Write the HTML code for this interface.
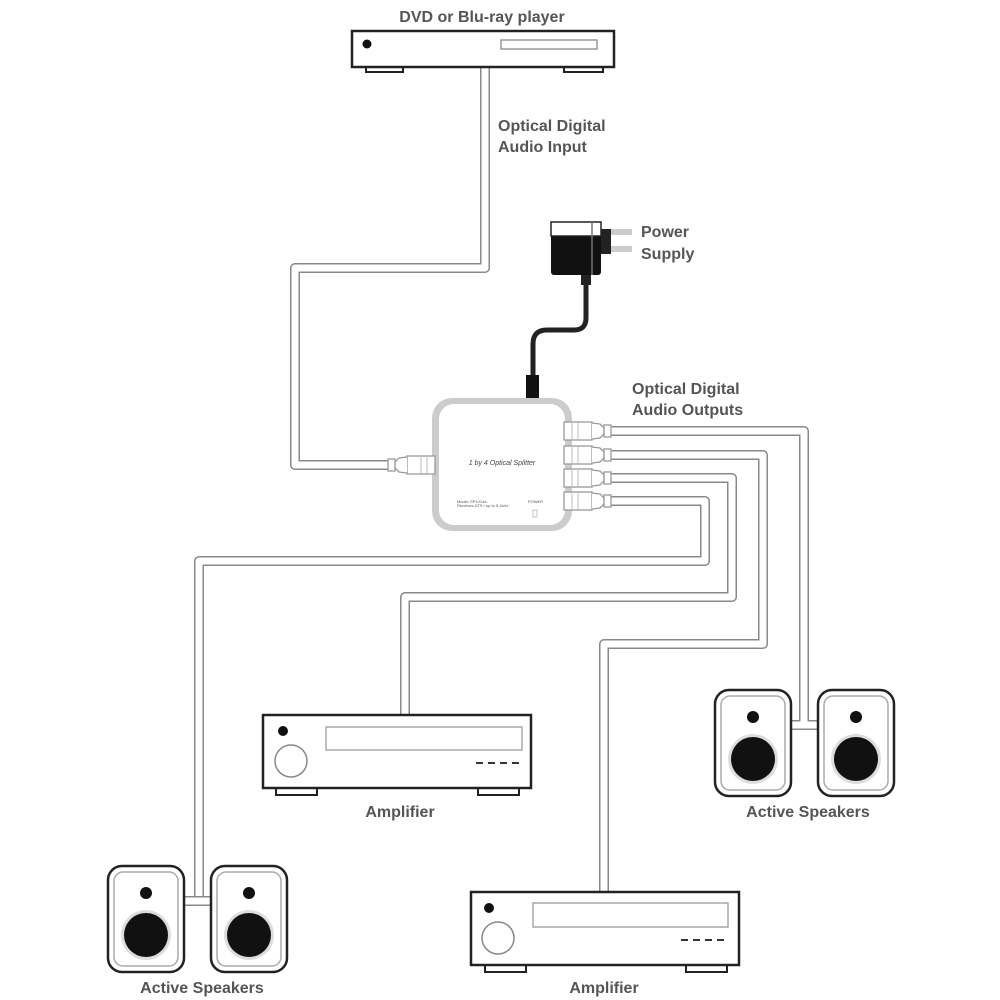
<!DOCTYPE html>
<html><head><meta charset="utf-8"><style>
html,body{margin:0;padding:0;background:#fff}
svg{display:block}
text{font-family:"Liberation Sans",sans-serif;font-weight:bold;fill:#555;font-size:16px}
</style></head><body>
<svg width="1000" height="1000" viewBox="0 0 1000 1000" xmlns="http://www.w3.org/2000/svg">
<defs>
<g id="spk">
 <rect x="0" y="0" width="76" height="106" rx="14" fill="#fff" stroke="#222" stroke-width="2.5"/>
 <rect x="6" y="6" width="64" height="94" rx="9" fill="none" stroke="#aaa" stroke-width="1.5"/>
 <circle cx="38" cy="27" r="6" fill="#111"/>
 <circle cx="38" cy="69" r="25" fill="#ddd"/>
 <circle cx="38" cy="69" r="22" fill="#111"/>
</g>
<g id="conn">
 <rect x="0" y="-9" width="28" height="18" fill="#fff" stroke="#999" stroke-width="1.3"/>
 <line x1="8" y1="-9" x2="8" y2="9" stroke="#bbb"/>
 <line x1="14" y1="-9" x2="14" y2="9" stroke="#bbb"/>
 <path d="M28,-8 L36,-7 L40,-3 L40,3 L36,7 L28,8" fill="#fff" stroke="#999" stroke-width="1.3"/>
 <rect x="40" y="-6" width="7" height="12" fill="#fff" stroke="#999" stroke-width="1.3"/>
</g>
</defs>
<g fill="none" stroke-linejoin="round">
 <g stroke="#888" stroke-width="10">
  <path d="M485,67 V268 H295 V465 H390"/>
  <path d="M610,431 H804 V725"/>
  <path d="M610,455 H763 V644 H604 V892"/>
  <path d="M610,478 H732 V597 H405 V715"/>
  <path d="M610,501 H705 V561 H199 V896"/>
  <path d="M790,725 H820"/>
  <path d="M184,901 H212"/>
 </g>
 <g stroke="#fff" stroke-width="7">
  <path d="M485,67 V268 H295 V465 H390"/>
  <path d="M610,431 H804 V725"/>
  <path d="M610,455 H763 V644 H604 V892"/>
  <path d="M610,478 H732 V597 H405 V715"/>
  <path d="M610,501 H705 V561 H199 V896"/>
  <path d="M790,725 H820"/>
  <path d="M184,901 H212"/>
 </g>
</g>
<!-- DVD -->
<rect x="366" y="65" width="37" height="7" fill="#fff" stroke="#222" stroke-width="2"/>
<rect x="564" y="65" width="39" height="7" fill="#fff" stroke="#222" stroke-width="2"/>
<rect x="352" y="31" width="262" height="36" fill="#fff" stroke="#222" stroke-width="2.5"/>
<circle cx="367" cy="44" r="4.5" fill="#111"/>
<rect x="501" y="40" width="96" height="9" fill="none" stroke="#888" stroke-width="1.3"/>
<text x="482" y="22" text-anchor="middle">DVD or Blu-ray player</text>
<text x="498" y="131">Optical Digital</text>
<text x="498" y="152">Audio Input</text>
<!-- power -->
<path d="M586,275 V318 Q586,330 574,330 H547 Q533,330 533,344 V378" fill="none" stroke="#222" stroke-width="5"/>
<rect x="581" y="275" width="10" height="10" fill="#222"/>
<rect x="551" y="222" width="50" height="53" rx="3" fill="#111"/>
<rect x="551" y="222" width="50" height="14" fill="#fff" stroke="#222" stroke-width="1.5"/>
<line x1="592" y1="222" x2="592" y2="275" stroke="#777" stroke-width="1.5"/>
<rect x="603" y="229" width="29" height="6" fill="#ccc"/>
<rect x="603" y="246" width="29" height="6" fill="#ccc"/>
<rect x="601" y="229" width="10" height="25" fill="#222"/>
<rect x="526" y="375" width="13" height="25" fill="#111"/>
<text x="641" y="237">Power</text>
<text x="641" y="259">Supply</text>
<!-- splitter -->
<rect x="432" y="398" width="140" height="133" rx="20" fill="#ccc"/>
<rect x="439" y="404" width="126" height="121" rx="15" fill="#fff"/>
<text x="502" y="465" text-anchor="middle" style="font-size:7px;font-weight:normal;font-style:italic;fill:#444">1 by 4 Optical Splitter</text>
<text x="457" y="503" style="font-size:4px;font-weight:normal;fill:#555">Model: SP1014a</text>
<text x="457" y="507" style="font-size:4px;font-weight:normal;fill:#555">Receives DTS / up to 5.1kHz</text>
<text x="528" y="503" style="font-size:4px;font-weight:normal;fill:#555">POWER</text>
<rect x="533" y="510" width="4" height="7" fill="none" stroke="#aaa" stroke-width="0.7"/>
<g transform="translate(435,465) scale(-1,1)"><use href="#conn"/></g>
<use href="#conn" transform="translate(564,431)"/>
<use href="#conn" transform="translate(564,455)"/>
<use href="#conn" transform="translate(564,478)"/>
<use href="#conn" transform="translate(564,501)"/>
<text x="632" y="394">Optical Digital</text>
<text x="632" y="415">Audio Outputs</text>
<!-- amp1 -->
<rect x="276" y="786" width="41" height="9" fill="#fff" stroke="#222" stroke-width="2"/>
<rect x="478" y="786" width="41" height="9" fill="#fff" stroke="#222" stroke-width="2"/>
<rect x="263" y="715" width="268" height="73" fill="#fff" stroke="#222" stroke-width="2.5"/>
<circle cx="283" cy="731" r="5" fill="#111"/>
<circle cx="291" cy="761" r="16" fill="none" stroke="#888" stroke-width="1.5"/>
<rect x="326" y="727" width="196" height="23" fill="none" stroke="#999" stroke-width="1.3"/>
<path d="M476,763 H522" stroke="#333" stroke-width="2" stroke-dasharray="7,5"/>
<text x="400" y="817" text-anchor="middle">Amplifier</text>
<!-- amp2 -->
<rect x="485" y="963" width="41" height="9" fill="#fff" stroke="#222" stroke-width="2"/>
<rect x="686" y="963" width="41" height="9" fill="#fff" stroke="#222" stroke-width="2"/>
<rect x="471" y="892" width="268" height="73" fill="#fff" stroke="#222" stroke-width="2.5"/>
<circle cx="489" cy="908" r="5" fill="#111"/>
<circle cx="498" cy="938" r="16" fill="none" stroke="#888" stroke-width="1.5"/>
<rect x="533" y="903" width="195" height="24" fill="none" stroke="#999" stroke-width="1.3"/>
<path d="M681,940 H728" stroke="#333" stroke-width="2" stroke-dasharray="7,5"/>
<text x="604" y="993" text-anchor="middle">Amplifier</text>
<!-- speakers -->
<use href="#spk" transform="translate(108,866)"/>
<use href="#spk" transform="translate(211,866)"/>
<text x="202" y="993" text-anchor="middle">Active Speakers</text>
<use href="#spk" transform="translate(715,690)"/>
<use href="#spk" transform="translate(818,690)"/>
<text x="808" y="817" text-anchor="middle">Active Speakers</text>
</svg>
</body></html>
